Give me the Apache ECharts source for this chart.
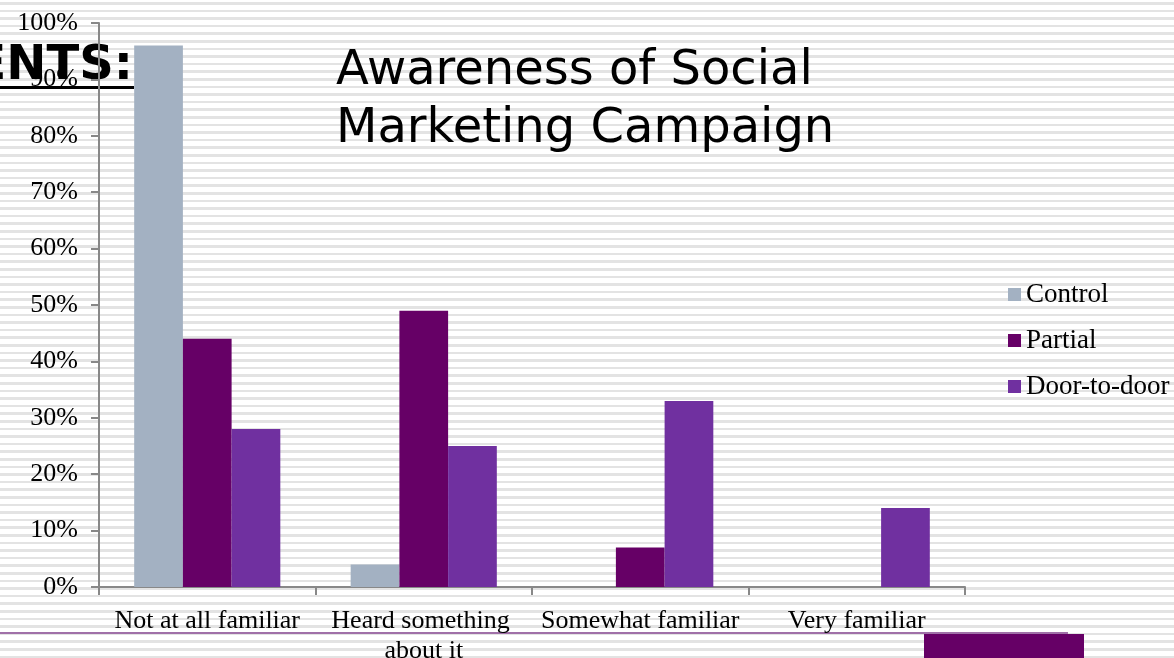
<!DOCTYPE html>
<html>
<head>
<meta charset="utf-8">
<script src="https://cdn.jsdelivr.net/npm/echarts@6/dist/echarts.min.js"></script>
<style>
  html, body { margin: 0; padding: 0; }
  body {
    width: 1174px; height: 658px; overflow: hidden;
    background-color: #ffffff;
    background-image: repeating-linear-gradient(to bottom,
      #ffffff 0px, #ffffff 2px, #e3e3e3 2px, #e3e3e3 4.6px, #ffffff 4.6px, #ffffff 7.6px);
  }
  #chart { width: 1174px; height: 658px; }
</style>
</head>
<body>
<div id="chart"></div>
<script>
// Survey responses: share of respondents at each awareness level
const categories = ['Not at all familiar', 'Heard something about it', 'Somewhat familiar', 'Very familiar'];
const seriesNames = ['Control', 'Partial', 'Door-to-door'];
const control = [96, 4, 0, 0];
const partial = [44, 49, 7, 0];
const doorToDoor = [28, 25, 33, 14];
const yTicks = [0, 10, 20, 30, 40, 50, 60, 70, 80, 90, 100];

const colors = ['#a3b1c2', '#660066', '#7030a0'];
const serif = '"Liberation Serif", "Times New Roman", serif';
const sans = '"DejaVu Sans", Verdana, sans-serif';

const chart = echarts.init(document.getElementById('chart'), null, { renderer: 'canvas' });

const values = [control, partial, doorToDoor];

chart.setOption({
  backgroundColor: 'transparent',
  animation: false,
  color: colors,
  title: {
    text: 'Awareness of Social\nMarketing Campaign',
    left: 331,
    top: 38,
    textStyle: {
      fontFamily: sans,
      fontWeight: 'normal',
      fontSize: 48,
      lineHeight: 58,
      color: '#000000'
    }
  },
  legend: {
    orient: 'vertical',
    left: 1003,
    top: 276,
    itemWidth: 13,
    itemHeight: 13,
    itemGap: 19,
    icon: 'rect',
    data: seriesNames,
    textStyle: {
      fontFamily: serif,
      fontSize: 27,
      lineHeight: 26,
      color: '#000000'
    }
  },
  grid: {
    left: 99,
    right: 209,
    top: 23,
    bottom: 71,
    containLabel: false,
    outerBoundsMode: 'none'
  },
  xAxis: {
    type: 'category',
    data: categories,
    axisLine: { lineStyle: { color: '#888888', width: 2 } },
    axisTick: { show: true, length: 8, lineStyle: { color: '#888888', width: 2 } },
    axisLabel: {
      fontFamily: serif,
      fontSize: 26,
      lineHeight: 30,
      color: '#000000',
      margin: 19,
      width: 216,
      overflow: 'break',
      interval: 0
    }
  },
  yAxis: {
    type: 'value',
    min: yTicks[0],
    max: yTicks[yTicks.length - 1],
    interval: yTicks[1] - yTicks[0],
    splitLine: { show: false },
    axisLine: { show: true, lineStyle: { color: '#888888', width: 2 } },
    axisTick: { show: true, length: 8, lineStyle: { color: '#888888', width: 2 } },
    axisLabel: {
      fontFamily: serif,
      fontSize: 26,
      color: '#000000',
      margin: 21,
      formatter: '{value}%'
    }
  },
  graphic: [
    {
      type: 'text',
      z: -10,
      style: {
        text: 'ENTS:',
        x: 133,
        y: 67,
        align: 'right',
        verticalAlign: 'middle',
        fill: '#000000',
        font: 'bold 48px ' + sans
      }
    },
    {
      type: 'rect',
      z: -10,
      shape: { x: 0, y: 86, width: 134, height: 3 },
      style: { fill: '#000000' }
    },
    {
      type: 'rect',
      z: -10,
      shape: { x: 0, y: 632, width: 1068, height: 2 },
      style: { fill: '#a070a8' }
    },
    {
      type: 'rect',
      z: -10,
      shape: { x: 924, y: 634, width: 160, height: 24 },
      style: { fill: '#660066' }
    }
  ],
  series: seriesNames.map((name, i) => ({
    name: name,
    type: 'bar',
    data: values[i],
    barGap: '0%',
    barCategoryGap: '32.5%',
    itemStyle: { color: colors[i] }
  }))
});
</script>
</body>
</html>
